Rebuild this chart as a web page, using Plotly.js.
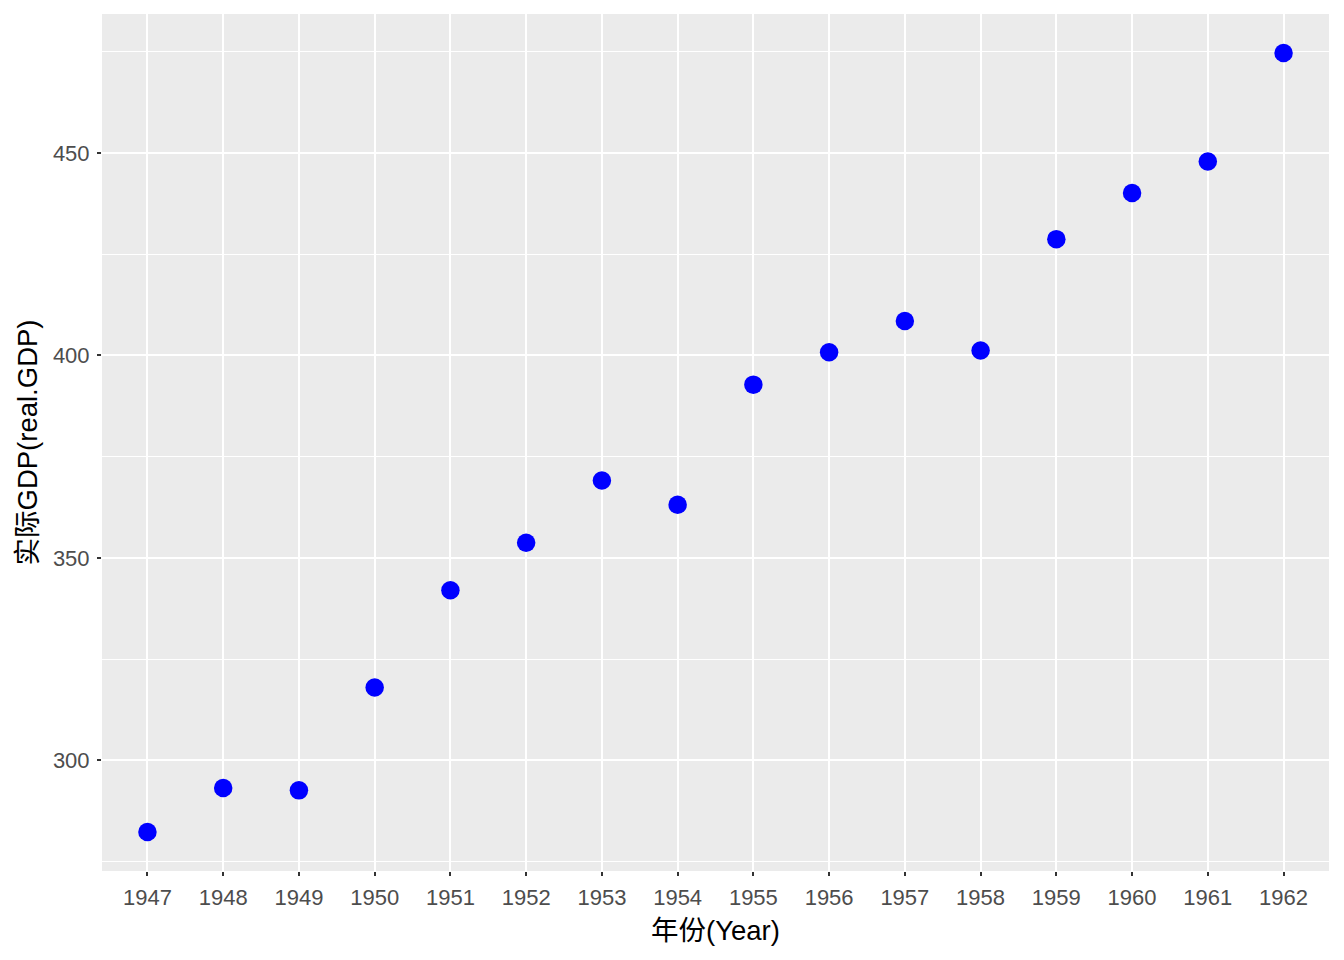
<!DOCTYPE html>
<html>
<head>
<meta charset="utf-8">
<script src="https://cdn.plot.ly/plotly-3.0.1.min.js"></script>
<style>html,body{margin:0;padding:0;background:#fff;}#chart{width:1344px;height:960px;}</style>
</head>
<body>
<div id="chart"></div>
<script>
const years = [1947,1948,1949,1950,1951,1952,1953,1954,1955,1956,1957,1958,1959,1960,1961,1962];
const realGDP = [282.28,293.14,292.58,317.99,341.97,353.72,369.08,363.11,392.76,400.75,408.46,401.21,428.69,440.10,447.86,474.67];
const yTicks = [300,350,400,450];
const xLabel = '年份(Year)';
const yLabel = '实际GDP(real.GDP)';

const ymin = Math.min(...realGDP), ymax = Math.max(...realGDP);
const pad = (ymax - ymin) * 0.05;

const trace = {
  x: years.map(String),
  y: realGDP,
  type: 'scatter',
  mode: 'markers',
  marker: {color: '#0000FF', size: 18.5, line: {width: 0}},
  hoverinfo: 'x+y'
};

const tickFont = {family: 'Liberation Sans, Arial, sans-serif', size: 22, color: '#4D4D4D'};
const titleFont = {family: 'Liberation Sans, Noto Sans CJK SC, sans-serif', size: 27.5, color: '#000000'};

const layout = {
  width: 1344, height: 960,
  margin: {l: 102, r: 15, t: 14, b: 89},
  paper_bgcolor: '#FFFFFF',
  plot_bgcolor: '#EBEBEB',
  showlegend: false,
  xaxis: {
    type: 'category',
    range: [-0.6, years.length - 1 + 0.6],
    showgrid: true, gridcolor: '#FFFFFF', gridwidth: 2,
    zeroline: false, showline: false,
    ticks: 'outside', ticklen: 4, tickwidth: 2, tickcolor: '#333333',
    ticklabelstandoff: 3,
    tickfont: tickFont,
    title: {text: xLabel, font: titleFont, standoff: 11},
    automargin: false
  },
  yaxis: {
    range: [ymin - pad, ymax + pad],
    tickvals: yTicks,
    ticktext: yTicks.map(String),
    showgrid: true, gridcolor: '#FFFFFF', gridwidth: 2,
    minor: {tickvals: [275,325,375,425,475], showgrid: true, gridcolor: '#FFFFFF', gridwidth: 1, ticks: ''},
    zeroline: false, showline: false,
    ticks: 'outside', ticklen: 4, tickwidth: 2, tickcolor: '#333333',
    ticklabelstandoff: 3,
    tickfont: tickFont,
    title: {text: yLabel, font: titleFont, standoff: 7},
    automargin: false
  }
};

Plotly.newPlot('chart', [trace], layout, {displayModeBar: false, staticPlot: true});
</script>
</body>
</html>
